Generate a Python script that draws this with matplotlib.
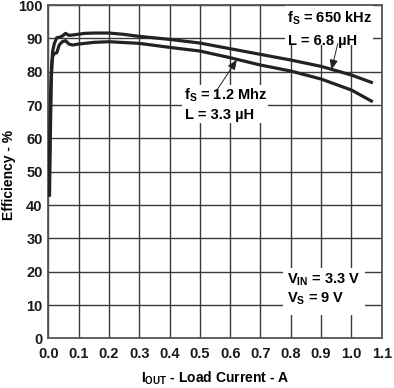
import matplotlib
matplotlib.use("Agg")
import matplotlib.pyplot as plt
from matplotlib.patches import Rectangle

# efficiency curves
i_650k = [0.004, 0.007, 0.010, 0.014, 0.020, 0.028, 0.036, 0.046, 0.057, 0.068,
          0.079, 0.095, 0.12, 0.15, 0.2, 0.25, 0.3, 0.4, 0.5, 0.6, 0.7, 0.8,
          0.9, 1.0, 1.066]
eff_650k = [43, 62, 78, 86, 88.5, 90.2, 90.3, 90.7, 91.5, 90.9,
            91.0, 91.2, 91.5, 91.6, 91.6, 91.2, 90.6, 89.7, 88.6, 86.9, 85.2, 83.5,
            81.6, 79.0, 76.8]

i_1m2 = [0.002, 0.005, 0.008, 0.011, 0.014, 0.020, 0.028, 0.036, 0.046, 0.057,
         0.068, 0.08, 0.1, 0.15, 0.2, 0.3, 0.4, 0.5, 0.6, 0.7, 0.8, 0.9,
         1.0, 1.066]
eff_1m2 = [43, 60, 75, 82, 84.5, 85.5, 85.7, 88, 89, 89.3,
           88.3, 88.0, 88.3, 88.8, 89.0, 88.5, 87.3, 86.2, 84.2, 82.0, 80.2, 77.8,
           74.5, 71.2]

xticks = [0.0, 0.1, 0.2, 0.3, 0.4, 0.5, 0.6, 0.7, 0.8, 0.9, 1.0, 1.1]
yticks = [0, 10, 20, 30, 40, 50, 60, 70, 80, 90, 100]

plt.rcParams['font.family'] = ['Liberation Sans', 'DejaVu Sans']
plt.rcParams['font.weight'] = 'bold'
plt.rcParams['mathtext.fontset'] = 'custom'
plt.rcParams['mathtext.rm'] = 'Liberation Sans:bold'
plt.rcParams['mathtext.it'] = 'Liberation Sans:bold'
plt.rcParams['mathtext.bf'] = 'Liberation Sans:bold'

fig = plt.figure(figsize=(3.94, 3.88), dpi=100)
ax = fig.add_axes([0.1226, 0.128, 0.8462, 0.859])

ax.set_xlim(0, 1.1)
ax.set_ylim(0, 100)
ax.set_xticks(xticks)
ax.set_xticklabels(["%.1f" % v for v in xticks])
ax.set_yticks(yticks)
ax.set_yticklabels([str(v) for v in yticks])
ax.tick_params(length=0, colors='#1a1a1a', labelsize=10.5)
ax.tick_params(axis='x', pad=6)
ax.tick_params(axis='y', pad=4)
for lbl in ax.get_xticklabels() + ax.get_yticklabels():
    lbl.set_fontweight('bold')
ax.grid(True, color='#3a3a3a', lw=1.0, zorder=1)
ax.set_axisbelow(True)
for s in ax.spines.values():
    s.set_color('#555555')
    s.set_linewidth(1.3)

ax.plot(i_650k, eff_650k, color='#222222', lw=2.3, zorder=3)
ax.plot(i_1m2, eff_1m2, color='#222222', lw=2.3, zorder=3)

# white boxes that cut the grid behind the labels
for x0, y0, w, h in [(0.781, 88, 0.29, 12), (0.441, 64.6, 0.284, 11.4),
                     (0.775, 7, 0.269, 14)]:
    ax.add_patch(Rectangle((x0, y0), w, h, facecolor='white', edgecolor='none',
                           zorder=2))

fs = 10.5
ax.text(0.786, 96, r'f$_\mathregular{S}$ = 650 kHz', fontsize=fs, fontweight='bold',
        va='center', zorder=4)
ax.text(0.792, 89.3, 'L = 6.8 µH', fontsize=fs, fontweight='bold', va='center', zorder=4)
ax.text(0.447, 73, r'f$_\mathregular{S}$ = 1.2 Mhz', fontsize=fs, fontweight='bold',
        va='center', zorder=4)
ax.text(0.452, 67, 'L = 3.3 µH', fontsize=fs, fontweight='bold', va='center', zorder=4)
ax.text(0.786, 17.7, r'V$_\mathregular{IN}$ = 3.3 V', fontsize=fs, fontweight='bold',
        va='center', zorder=4)
ax.text(0.786, 11.8, r'V$_\mathregular{S}$ = 9 V', fontsize=fs, fontweight='bold',
        va='center', zorder=4)

arrow = dict(arrowstyle='-|>,head_length=0.6,head_width=0.25', lw=0.7,
             color='#222222', shrinkA=0, shrinkB=0)
ax.annotate('', xy=(0.934, 80.6), xytext=(0.955, 88.4), arrowprops=arrow, zorder=4)
ax.annotate('', xy=(0.622, 83.6), xytext=(0.553, 74.0), arrowprops=arrow, zorder=4)

ax.set_ylabel('Efficiency - %', fontsize=10, fontweight='bold')
ax.set_xlabel(r'I$_\mathregular{OUT}$ - Load Current - A', fontsize=10,
              fontweight='bold')
ax.yaxis.set_label_coords(-0.097, 0.49)
ax.xaxis.set_label_coords(0.5, -0.093)

fig.savefig('out.png', dpi=100)
